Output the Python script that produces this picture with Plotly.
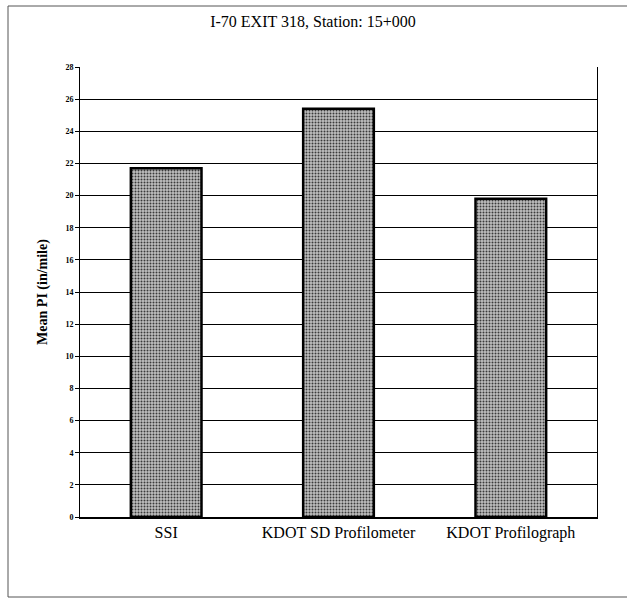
import plotly.graph_objects as go

categories = ["SSI", "KDOT SD Profilometer", "KDOT Profilograph"]
mean_pi = [21.7, 25.4, 19.8]
y_ticks = [0, 2, 4, 6, 8, 10, 12, 14, 16, 18, 20, 22, 24, 26, 28]

W, H = 627, 599
L, R, T, B = 80, 30, 67, 82
pw, ph = W - L - R, H - T - B
SERIF = "Liberation Serif, Times New Roman, serif"

fig = go.Figure(go.Bar(
    x=categories, y=mean_pi,
    marker=dict(
        color="#bdbdbd",
        line=dict(color="black", width=2.5),
        pattern=dict(shape=".", fgcolor="#3a3a3a", bgcolor="#c0c0c0", size=3, solidity=0.35, fillmode="replace"),
    ),
    width=0.41,
))

fig.update_layout(
    width=W, height=H,
    margin=dict(l=L, r=R, t=T, b=B),
    paper_bgcolor="white", plot_bgcolor="white",
    showlegend=False,
    font=dict(family=SERIF, color="black"),
    title=dict(text="I-70 EXIT 318, Station: 15+000", x=313 / W, xanchor="center",
               y=1 - 21 / H, yanchor="middle", yref="container",
               font=dict(size=16, family=SERIF)),
    xaxis=dict(showline=True, linecolor="black", linewidth=1.5, mirror=False,
               tickfont=dict(size=16, family=SERIF), ticks="", showgrid=False),
    yaxis=dict(range=[0, 28], tickvals=y_ticks, ticktext=["<b>%d</b>" % v for v in y_ticks],
               showline=True, linecolor="black", linewidth=1, mirror=True,
               showgrid=True, gridcolor="black", gridwidth=1,
               ticks="outside", ticklen=4, tickcolor="black",
               tickfont=dict(size=8, family=SERIF),
               title=dict(text="<b>Mean PI (in/mile)</b>", font=dict(size=14, family=SERIF), standoff=14)),
    shapes=[dict(type="rect", xref="paper", yref="paper",
                 x0=(8 - L) / pw, x1=(640 - L) / pw,
                 y0=(T + ph - 597) / ph, y1=(T + ph - 6) / ph,
                 line=dict(color="#555555", width=1), layer="below")],
)

fig.write_html("out.html")
